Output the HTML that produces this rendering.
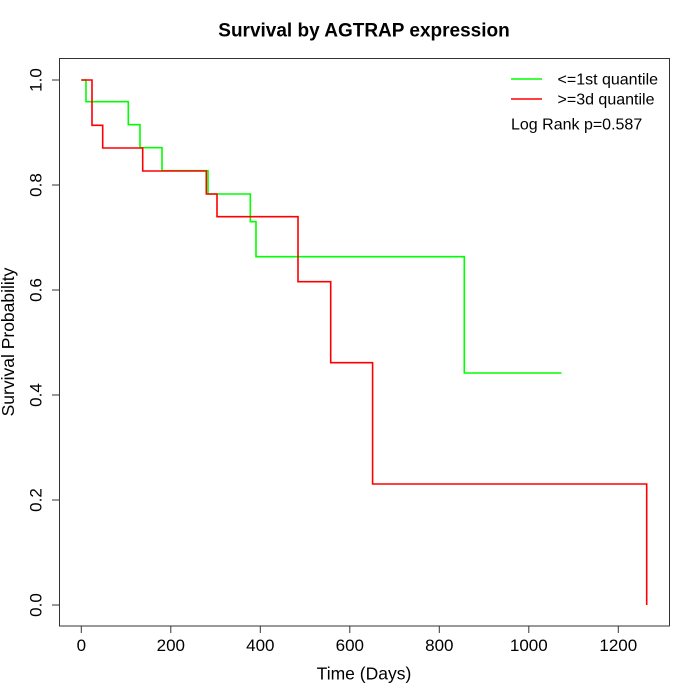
<!DOCTYPE html>
<html>
<head>
<meta charset="utf-8">
<style>
html,body{margin:0;padding:0;background:#fff;}
svg{display:block;}
text{font-family:"Liberation Sans",Arial,sans-serif;fill:#000;}
</style>
</head>
<body>
<svg width="700" height="700" viewBox="0 0 700 700" xmlns="http://www.w3.org/2000/svg">
<rect x="0" y="0" width="700" height="700" fill="#fff"/>
<!-- title -->
<text x="364" y="36.5" font-size="19" font-weight="bold" text-anchor="middle">Survival by AGTRAP expression</text>
<!-- plot box -->
<rect x="59.5" y="58.5" width="610" height="567.5" fill="none" stroke="#333" stroke-width="1"/>
<!-- x axis ticks -->
<g stroke="#333" stroke-width="1">
<line x1="81.3" y1="626" x2="81.3" y2="633"/>
<line x1="170.8" y1="626" x2="170.8" y2="633"/>
<line x1="260.3" y1="626" x2="260.3" y2="633"/>
<line x1="349.8" y1="626" x2="349.8" y2="633"/>
<line x1="439.3" y1="626" x2="439.3" y2="633"/>
<line x1="528.8" y1="626" x2="528.8" y2="633"/>
<line x1="618.3" y1="626" x2="618.3" y2="633"/>
</g>
<g font-size="17" text-anchor="middle">
<text x="81.3" y="651">0</text>
<text x="170.8" y="651">200</text>
<text x="260.3" y="651">400</text>
<text x="349.8" y="651">600</text>
<text x="439.3" y="651">800</text>
<text x="528.8" y="651">1000</text>
<text x="618.3" y="651">1200</text>
</g>
<text x="364" y="679.5" font-size="17.5" text-anchor="middle">Time (Days)</text>
<!-- y axis ticks -->
<g stroke="#333" stroke-width="1">
<line x1="52" y1="605" x2="59" y2="605"/>
<line x1="52" y1="500" x2="59" y2="500"/>
<line x1="52" y1="395" x2="59" y2="395"/>
<line x1="52" y1="290" x2="59" y2="290"/>
<line x1="52" y1="185" x2="59" y2="185"/>
<line x1="52" y1="80" x2="59" y2="80"/>
</g>
<g font-size="17" text-anchor="middle">
<text transform="translate(41.5,605) rotate(-90)">0.0</text>
<text transform="translate(41.5,500) rotate(-90)">0.2</text>
<text transform="translate(41.5,395) rotate(-90)">0.4</text>
<text transform="translate(41.5,290) rotate(-90)">0.6</text>
<text transform="translate(41.5,185) rotate(-90)">0.8</text>
<text transform="translate(41.5,80) rotate(-90)">1.0</text>
</g>
<text transform="translate(14,342) rotate(-90)" font-size="17.5" text-anchor="middle">Survival Probability</text>
<!-- green curve -->
<polyline fill="none" stroke="#00ff00" stroke-width="1.6" points="81.3,80 86,80 86,101.7 128.3,101.7 128.3,124.7 140,124.7 140,147.7 162,147.7 162,170.7 208,170.7 208,194 250.3,194 250.3,221.7 256,221.7 256,256.7 464.3,256.7 464.3,373 561.5,373"/>
<!-- red curve -->
<polyline fill="none" stroke="#ff0000" stroke-width="1.6" points="81.3,80 92,80 92,125.3 102.7,125.3 102.7,148 142.7,148 142.7,171 206.3,171 206.3,194 217,194 217,216.7 298,216.7 298,281.7 330.7,281.7 330.7,362.7 372.6,362.7 372.6,484 646.7,484 646.7,605"/>
<!-- legend -->
<line x1="511" y1="79" x2="542" y2="79" stroke="#00ff00" stroke-width="1.6"/>
<line x1="511" y1="99" x2="542" y2="99" stroke="#ff0000" stroke-width="1.6"/>
<g font-size="16">
<text x="557.5" y="84.7">&lt;=1st quantile</text>
<text x="557.5" y="104.5">&gt;=3d quantile</text>
<text x="511" y="129.5">Log Rank p=0.587</text>
</g>
</svg>
</body>
</html>
